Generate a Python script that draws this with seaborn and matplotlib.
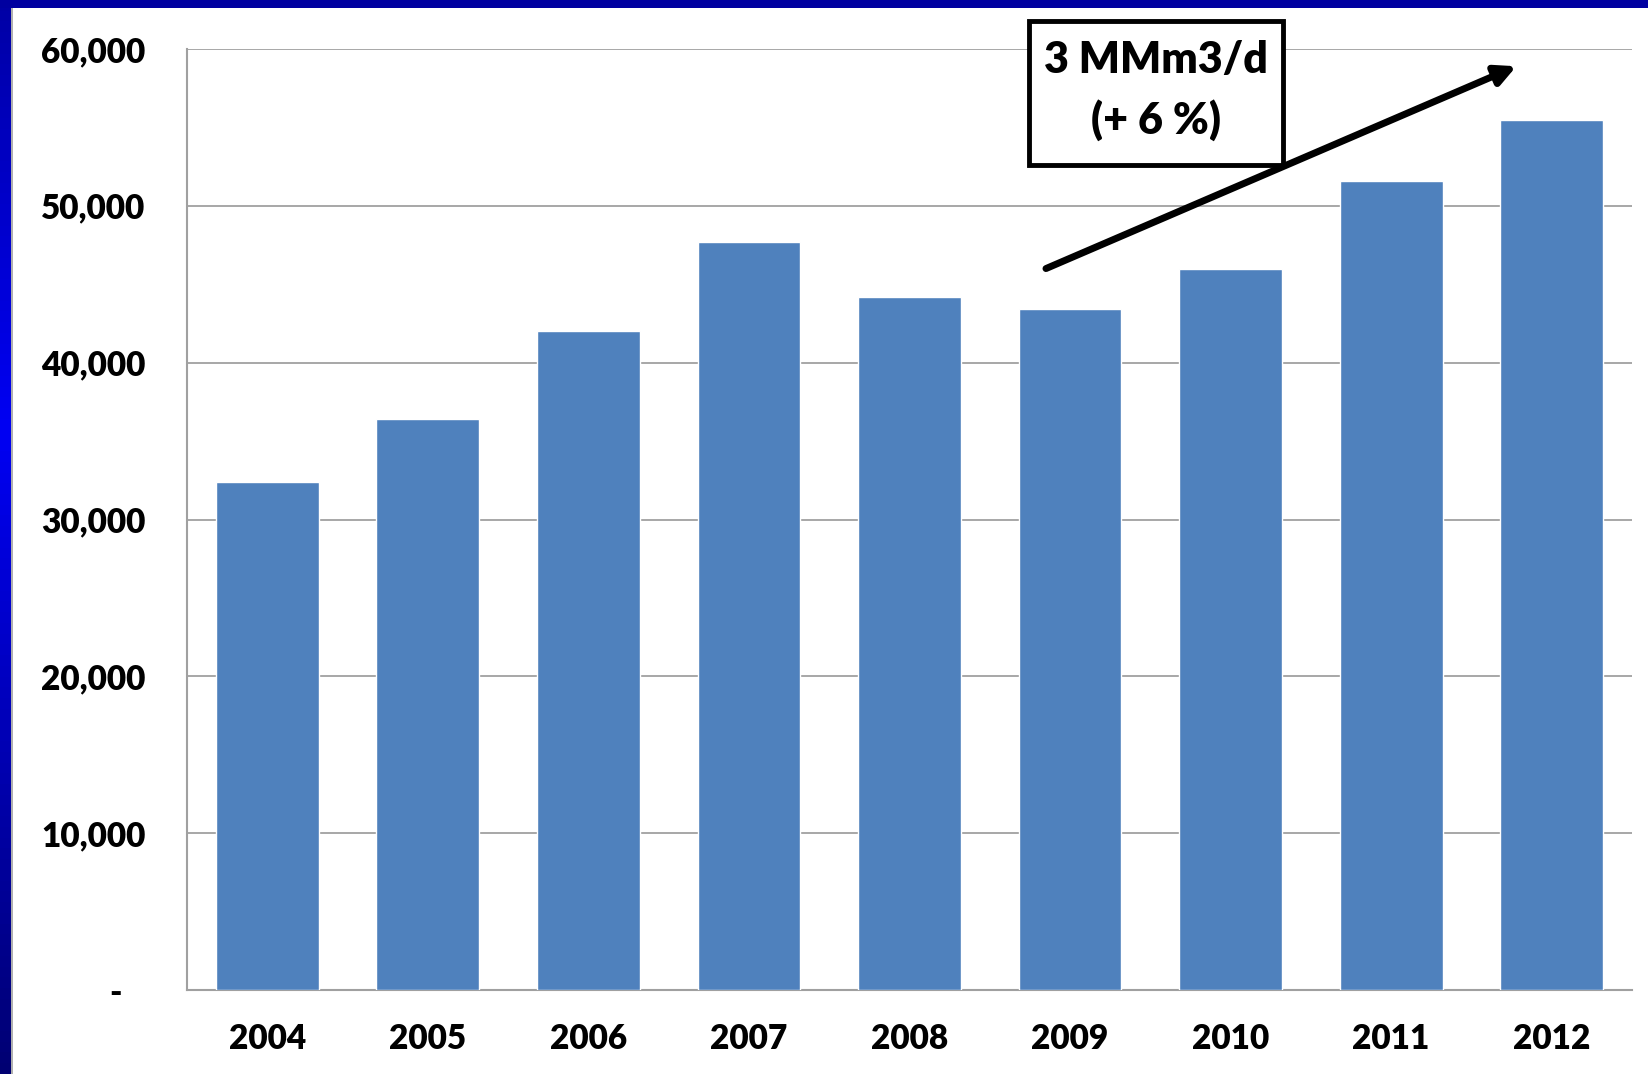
import numpy as np
import pandas as pd
import matplotlib
matplotlib.use("Agg")
import matplotlib.pyplot as plt
from matplotlib.patches import Rectangle
from matplotlib.ticker import FuncFormatter
import seaborn as sns

years = ["2004", "2005", "2006", "2007", "2008", "2009", "2010", "2011", "2012"]
production = [32400, 36400, 42000, 47700, 44200, 43400, 46000, 51600, 55500]
y_ticks = [0, 10000, 20000, 30000, 40000, 50000, 60000]
box_lines = ["3 MMm3/d", "(+ 6 %)"]

df = pd.DataFrame({"year": years, "value": production})

sns.set_style("white")
plt.rcParams["font.family"] = ["Lato", "DejaVu Sans"]
plt.rcParams["text.color"] = "black"
plt.rcParams["xtick.color"] = "black"
plt.rcParams["ytick.color"] = "black"

fig = plt.figure(figsize=(16.48, 10.74), dpi=100)
W, H = 1648, 1074
ax = fig.add_axes([187 / W, 1 - 990 / H, (1632 - 187) / W, (990 - 49) / H])

sns.barplot(data=df, x="year", y="value", color="#4F81BD", saturation=1,
            width=0.64, ax=ax, zorder=3)

ax.set_ylim(0, 60000)
ax.set_yticks(y_ticks)
ax.yaxis.set_major_formatter(FuncFormatter(lambda v, p: "-   " if v == 0 else f"{int(v):,}"))
ax.grid(axis="y", color="#A0A0A0", linewidth=1.3, zorder=0)
ax.set_axisbelow(True)
for s in ["top", "right"]:
    ax.spines[s].set_visible(False)
for s in ["left", "bottom"]:
    ax.spines[s].set_color("#A0A0A0")
    ax.spines[s].set_linewidth(1.5)
ax.tick_params(axis="y", length=0, pad=30, labelsize=24, labelcolor="black")
ax.tick_params(axis="x", length=0, pad=24, labelsize=24, labelcolor="black")
for lab in ax.get_xticklabels() + ax.get_yticklabels():
    lab.set_fontweight("heavy")
ax.set_xlabel("")
ax.set_ylabel("")

# trend arrow
ax.annotate("", xy=(7.78, 58900), xytext=(4.85, 46000),
            arrowprops=dict(arrowstyle="-|>,head_length=1.2,head_width=0.6",
                            lw=5, color="black", fill=False,
                            shrinkA=0, shrinkB=0),
            zorder=6, annotation_clip=False)

# annotation box
fig.patches.append(Rectangle((1029 / W, 1 - 165 / H), (1283 - 1029) / W, (165 - 21) / H,
                             transform=fig.transFigure, facecolor="white",
                             edgecolor="black", linewidth=3.5, zorder=5))
fig.text(1156 / W, 1 - 60 / H, box_lines[0], ha="center", va="center",
         fontsize=31, fontweight="heavy", color="black", zorder=7)
fig.text(1156 / W, 1 - 120 / H, box_lines[1], ha="center", va="center",
         fontsize=31, fontweight="heavy", color="black", zorder=7)

# slide frame: left gradient strip and top bar
bax = fig.add_axes([0, 0, 11 / W, 1])
grad = np.concatenate([np.linspace(0.65, 0.95, 40), np.linspace(0.95, 0.45, 60)])
rgb = np.zeros((100, 1, 3))
rgb[:, 0, 2] = grad
bax.imshow(rgb, aspect="auto", extent=[0, 1, 0, 1])
bax.axis("off")
fig.patches.append(Rectangle((0, 1 - 8 / H), 1, 8 / H, transform=fig.transFigure,
                             facecolor="#0000A0", edgecolor="none", zorder=10))
fig.patches.append(Rectangle((11 / W, 0), 2 / W, 1 - 8 / H, transform=fig.transFigure,
                             facecolor="#B0B0B0", edgecolor="none", zorder=10))

fig.savefig("out.png", dpi=100)
